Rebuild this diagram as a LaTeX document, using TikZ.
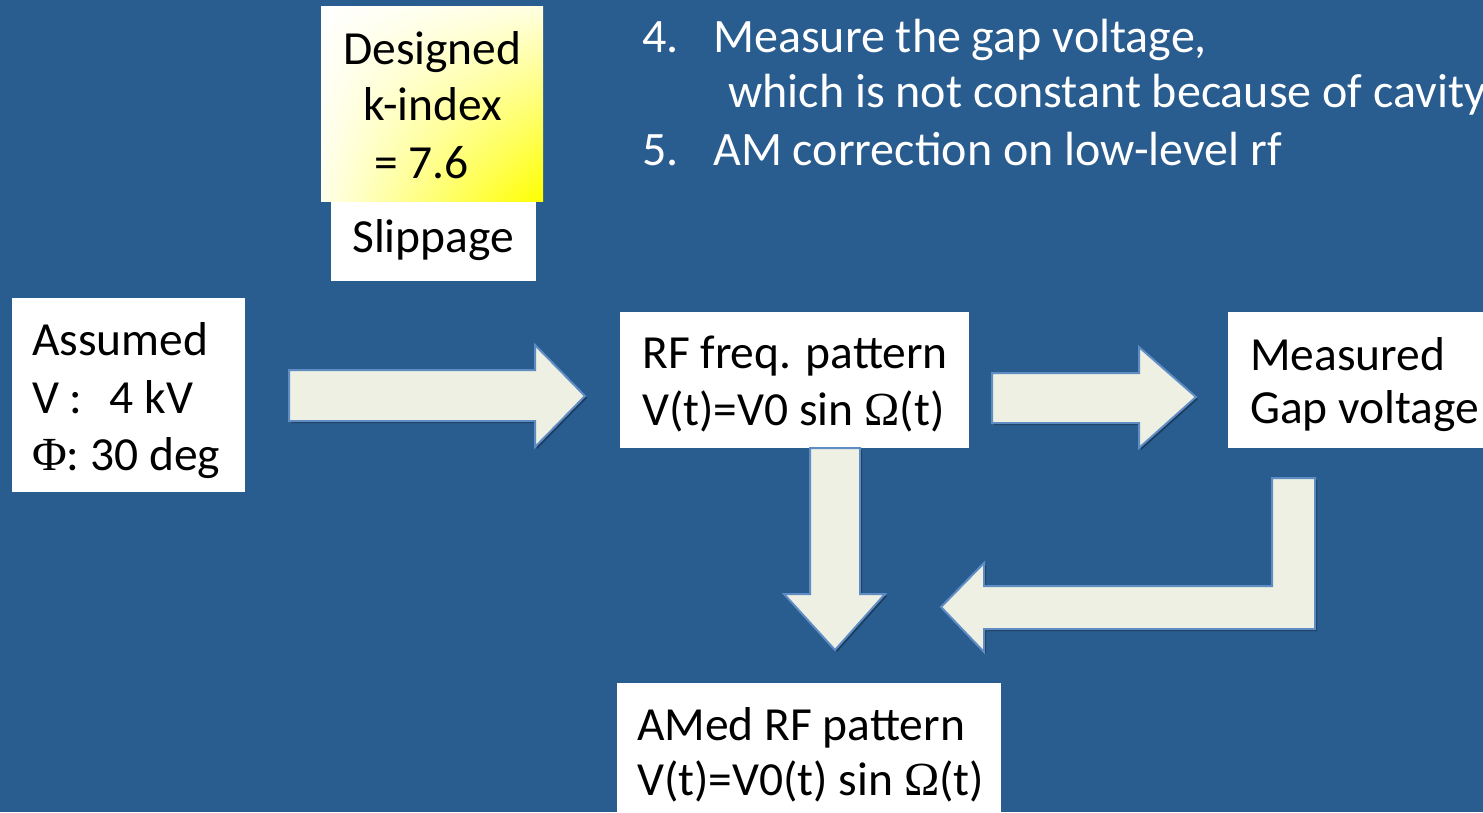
\documentclass[tikz,border=0pt]{standalone}
\usepackage{fontspec}
\setmainfont{Carlito}
\newfontfamily\serifgr{Liberation Serif}
\usetikzlibrary{shadows,shadings}
\definecolor{bgblue}{RGB}{41,92,143}
\definecolor{arrowfill}{RGB}{237,240,227}
\definecolor{arrowline}{RGB}{95,140,195}
\tikzset{
  box/.style={fill=white, draw=none, inner sep=0pt, anchor=north west},
  txt/.style={anchor=base west, inner sep=0pt, text=black, font=\fontsize{47.5}{57}\selectfont},
  toptxt/.style={anchor=base west, inner sep=0pt, text=white, font=\fontsize{48}{55}\selectfont},
  blockarrow/.style={fill=arrowfill, draw=arrowline, line width=2pt, line join=miter,
    drop shadow={opacity=0.35, shadow xshift=2pt, shadow yshift=-2pt, fill=black}}
}
\begin{document}
\begin{tikzpicture}[x=1pt,y=-1pt]
\useasboundingbox (0,0) rectangle (1483,812);
\clip (0,0) rectangle (1483,812);
\fill[bgblue] (0,0) rectangle (1483,812);

% top text
\node[toptxt] (t4n) at (642,52) {4.};
\node[toptxt] (t4) at (713,52) {Measure the gap voltage,};
\node[toptxt] (t4b) at (728,107) {which is not constant because of cavity};
\node[toptxt] (t5n) at (642,165) {5.};
\node[toptxt] (t5) at (713,165) {AM correction on low-level rf};

% Designed k-index box
\shade[upper left=white, upper right=yellow!12, lower left=yellow!8, lower right=yellow]
  (321,6) rectangle (543,201);
\node[box, fill=none, minimum width=222pt, minimum height=195pt] (design) at (321,6) {};
\node[txt] (d1) at (343,64) {Designed};
\node[txt] (d2) at (363,120) {k-index};
\node[txt] (d3) at (374,178) {= 7.6};

% Slippage
\node[box, minimum width=205pt, minimum height=79pt] (slip) at (331,202) {};
\node[txt] (s1) at (352,252) {Slippage};

% Assumed
\node[box, minimum width=233pt, minimum height=194pt] (assumed) at (12,298) {};
\node[txt] (a1) at (32,355) {Assumed};
\node[txt] (a2) at (32,413) {V :\hspace{27pt}4 kV};
\node[txt] (a3) at (32,470) {{\serifgr Φ}: 30 deg};

% RF freq pattern
\node[box, minimum width=349pt, minimum height=136pt] (rf) at (620,312) {};
\node[txt] (r1) at (642,368) {RF freq. pattern};
\node[txt] (r2) at (642,425) {V(t)=V0 sin {\serifgr Ω}(t)};

% Measured
\node[box, minimum width=300pt, minimum height=136pt] (meas) at (1228,312) {};
\node[txt] (m1) at (1250,370) {Measured};
\node[txt] (m2) at (1250,423) {Gap voltage};

% AMed
\node[box, minimum width=384pt, minimum height=160pt] (amed) at (617,683) {};
\node[txt] (am1) at (637,740) {AMed RF pattern};
\node[txt] (am2) at (637,795) {V(t)=V0(t) sin {\serifgr Ω}(t)};

% block arrows
\draw[blockarrow] (289,370) -- (535,370) -- (535,345) -- (585,396) -- (535,447) -- (535,421) -- (289,421) -- cycle;
\draw[blockarrow] (992,373) -- (1139,373) -- (1139,347) -- (1196,397) -- (1139,448) -- (1139,423) -- (992,423) -- cycle;
\draw[blockarrow] (810,448) -- (860,448) -- (860,594) -- (885,594) -- (835,650) -- (784,594) -- (810,594) -- cycle;
\draw[blockarrow] (1272,478) -- (1315,478) -- (1315,629) -- (984,629) -- (984,652) -- (941,607) -- (984,563) -- (984,586) -- (1272,586) -- cycle;
\end{tikzpicture}
\end{document}
